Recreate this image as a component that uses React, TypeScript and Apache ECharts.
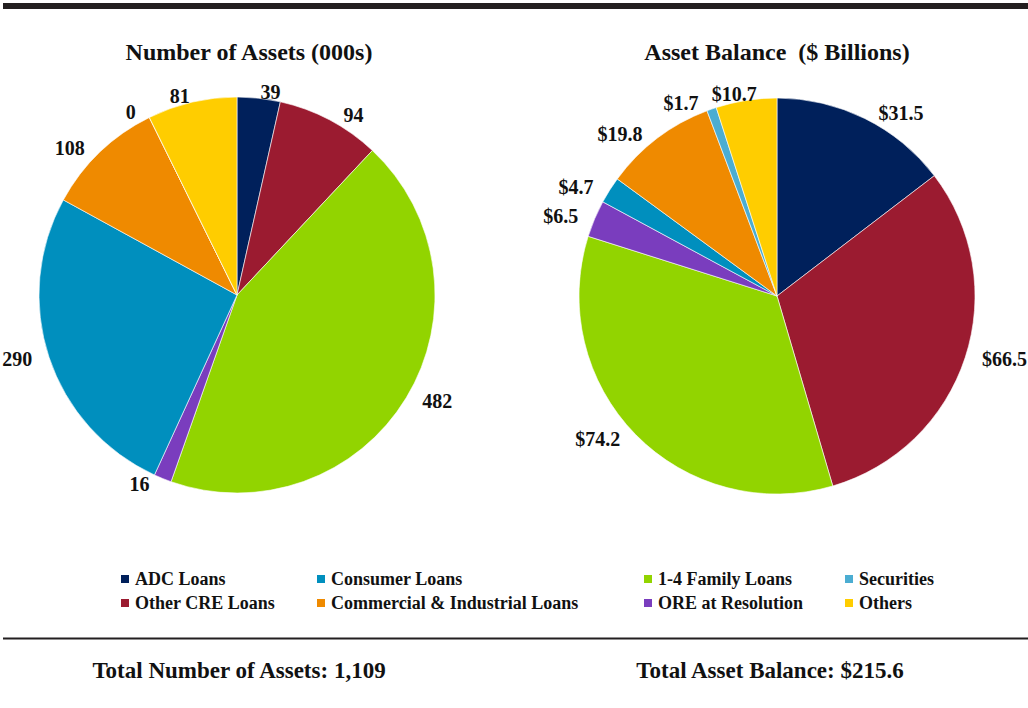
import React, { useEffect, useRef } from "react";
import * as echarts from "echarts";

const categories = [
  "ADC Loans",
  "Other CRE Loans",
  "1-4 Family Loans",
  "ORE at Resolution",
  "Consumer Loans",
  "Commercial & Industrial Loans",
  "Securities",
  "Others",
];
const assetCounts = [39, 94, 482, 16, 290, 108, 0, 81];
const assetBalances = [31.5, 66.5, 74.2, 6.5, 4.7, 19.8, 1.7, 10.7];
const sliceColors = [
  "#00205B",
  "#9B1B30",
  "#92D400",
  "#7A3DBE",
  "#008FBE",
  "#EF8A00",
  "#4BADD2",
  "#FFCD00",
];
const legendColumns = [
  ["ADC Loans", "Other CRE Loans"],
  ["Consumer Loans", "Commercial & Industrial Loans"],
  ["1-4 Family Loans", "ORE at Resolution"],
  ["Securities", "Others"],
];
const chartTitles = ["Number of Assets (000s)", "Asset Balance  ($ Billions)"];
const totalLabels = ["Total Number of Assets: 1,109", "Total Asset Balance: $215.6"];

const FONT = "'Liberation Serif', 'Times New Roman', serif";
const legendLefts = [119, 315, 642, 843];

// mid angle (degrees clockwise from 12 o'clock) of a slice, from the data
function midAngle(vals: number[], idx: number): number {
  const total = vals.reduce((a, b) => a + b, 0);
  let before = 0;
  for (let i = 0; i < idx; i++) before += vals[i];
  return ((before + vals[idx] / 2) / total) * 360;
}

export default function App() {
  const ref = useRef<HTMLDivElement>(null);
  useEffect(() => {
    if (!ref.current) return;
    const chart = echarts.init(ref.current, null, { renderer: "svg" });
    const mk = (vals: number[]) =>
      categories.map((name, i) => ({
        name,
        value: vals[i],
        itemStyle: { color: sliceColors[i] },
      }));
    const layoutFor = (vals: number[]) => (params: any) => {
      const a = midAngle(vals, params.dataIndex);
      const fromTop = Math.min(a, 360 - a);
      if (fromTop < 15) {
        const r = params.labelRect;
        const anchor = params.align === "right" ? r.x + r.width : r.x;
        return { x: anchor, align: "center", hideOverlap: false };
      }
      return { hideOverlap: false };
    };
    const pieBase = {
      type: "pie",
      radius: 198,
      startAngle: 90,
      clockwise: true,
      avoidLabelOverlap: false,
      silent: true,
      stillShowZeroSum: true,
      itemStyle: { borderColor: "#ffffff", borderWidth: 0.6 },
      label: {
        show: true,
        position: "outside",
        fontFamily: FONT,
        fontWeight: "bold",
        fontSize: 20,
        color: "#111111",
      },
      labelLine: { show: false, length: 6, length2: 6 },
      emphasis: { disabled: true },
    };
    chart.setOption({
      animation: false,
      backgroundColor: "#ffffff",
      legend: legendColumns.map((col, i) => ({
        orient: "vertical",
        left: legendLefts[i],
        top: 570,
        padding: 0,
        itemGap: 6,
        itemWidth: 10,
        itemHeight: 10,
        icon: "rect",
        selectedMode: false,
        data: col,
        textStyle: {
          fontFamily: FONT,
          fontWeight: "bold",
          fontSize: 18,
          color: "#111111",
        },
      })),
      series: [
        {
          ...pieBase,
          name: "Number of Assets",
          center: [237, 295],
          label: { ...pieBase.label, formatter: (p: any) => String(p.value) },
          labelLayout: layoutFor(assetCounts),
          data: mk(assetCounts),
        },
        {
          ...pieBase,
          name: "Asset Balance",
          center: [777, 296],
          label: {
            ...pieBase.label,
            formatter: (p: any) => "$" + Number(p.value).toFixed(1),
          },
          labelLayout: layoutFor(assetBalances),
          data: mk(assetBalances),
        },
      ],
      graphic: [
        { type: "rect", shape: { x: 3, y: 3, width: 1025, height: 6 }, style: { fill: "#231F20" } },
        { type: "rect", shape: { x: 3, y: 637.5, width: 1025, height: 2 }, style: { fill: "#231F20" } },
        {
          type: "text",
          x: 249,
          y: 52,
          style: { text: chartTitles[0], font: `bold 24px ${FONT}`, fill: "#111111", align: "center", verticalAlign: "middle" },
        },
        {
          type: "text",
          x: 777,
          y: 52,
          style: { text: chartTitles[1], font: `bold 24px ${FONT}`, fill: "#111111", align: "center", verticalAlign: "middle" },
        },
        {
          type: "text",
          x: 239,
          y: 670,
          style: { text: totalLabels[0], font: `bold 23px ${FONT}`, fill: "#111111", align: "center", verticalAlign: "middle" },
        },
        {
          type: "text",
          x: 770,
          y: 670,
          style: { text: totalLabels[1], font: `bold 23px ${FONT}`, fill: "#111111", align: "center", verticalAlign: "middle" },
        },
      ],
    });
    return () => chart.dispose();
  }, []);
  return (
    <div
      ref={ref}
      style={{ position: "absolute", left: 0, top: 0, width: 1028, height: 708 }}
    />
  );
}
